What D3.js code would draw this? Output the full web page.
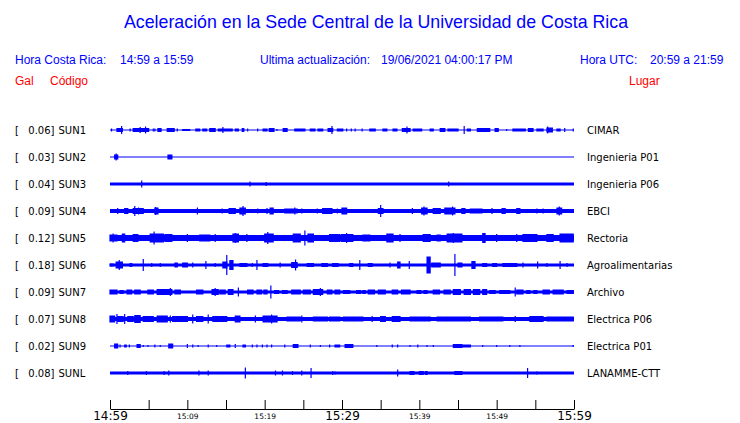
<!DOCTYPE html>
<html><head><meta charset="utf-8">
<script src="https://cdn.jsdelivr.net/npm/d3@7"></script>
<style>
html,body{margin:0;padding:0;background:#fff;}
svg{display:block;}
</style></head>
<body>
<svg id="chart" width="740" height="423"></svg>
<script>
// ---- data ----
const title = "Aceleración en la Sede Central de la Universidad de Costa Rica";
const stations = ["SUN1","SUN2","SUN3","SUN4","SUN5","SUN6","SUN7","SUN8","SUN9","SUNL"];
const places = ["CIMAR","Ingenieria P01","Ingenieria P06","EBCI","Rectoria","Agroalimentarias","Archivo","Electrica P06","Electrica P01","LANAMME-CTT"];
const peakGal = ["0.06","0.03","0.04","0.09","0.12","0.18","0.09","0.07","0.02","0.08"];
const startTime = "2021-06-19T14:59:00";
const tickLabels = ["14:59","15:04","15:09","15:14","15:19","15:24","15:29","15:34","15:39","15:44","15:49","15:54","15:59"];
const shownLabels = ["14:59","15:09","15:19","15:29","15:39","15:49","15:59"];
const bigLabels = ["14:59","15:29","15:59"];
// background noise level per trace (relative amplitude units)
const noiseLevel = [0.5, 0.5, 1.5, 2, 3, 1.5, 1.5, 2, 0.5, 1.5];
// bursts per trace: [start minute, end minute, amplitude]
const bursts = [
 // SUN1
 [[0.2,0.2,1.5],[0.9,1.6,2],[1.5,1.5,4],[2.6,2.6,1.5],[3.0,5.0,2],[3.9,3.9,3],[4.6,4.6,3.5],[5.6,5.6,1.5],[5.8,5.8,1.5],[6.2,6.6,2],[7.4,8.3,2],[8.7,8.7,1.5],[9.4,10.3,1],[11.1,11.6,1.5],[12.0,12.5,1.5],[12.9,13.6,2],[14.0,15.8,1.5],[14.6,14.6,3],[16.2,16.6,1.5],[17.1,17.3,2],[17.8,17.8,1.5],[19.1,19.1,1.5],[19.8,20.3,1.5],[20.6,21.2,2],[21.6,21.6,1],[22.4,22.9,2],[23.9,25.2,1.5],[25.9,26.5,1.5],[26.9,27.5,1.5],[28.2,28.8,2],[28.7,28.7,4],[29.4,30.1,1.5],[30.6,30.6,1.5],[31.2,31.2,1.5],[31.7,31.7,1.5],[32.6,32.6,1.5],[33.6,34.3,1.5],[35.3,35.8,1.5],[36.6,37.1,1.5],[37.8,38.8,2],[38.4,38.4,3.5],[39.2,40.3,1.5],[41.4,41.8,1.5],[42.7,43.3,2],[43.7,45.0,1.5],[45.8,45.8,4],[46.2,46.6,1.5],[47.5,49.1,2],[49.8,50.2,2],[51.3,51.3,1],[52.1,53.7,1.5],[54.1,54.7,2],[55.2,56.0,1.5],[56.5,57.2,2.5],[56.6,56.6,3.5],[57.8,58.2,1.5],[58.8,58.8,2],[59.9,59.9,1.5]],
 // SUN2
 [[0.6,1.0,2.5],[0.8,0.8,3.5],[7.5,8.0,2.5]],
 // SUN3
 [[4.1,4.1,3.5],[18.1,18.1,2.5],[20.2,20.2,2],[43.8,43.8,2.5]],
 // SUN4
 [[1.0,1.0,3],[1.9,2.3,3],[3.0,4.3,3],[3.2,3.2,5],[3.7,3.7,3.5],[5.8,6.2,3.5],[5.9,5.9,4],[11.3,11.3,3.5],[14.5,14.5,2.5],[15.4,16.2,3],[16.8,17.5,3.5],[17.2,17.2,5],[19.1,19.1,2.5],[20.3,20.3,3],[20.7,21.1,3.5],[22.6,24.2,2.5],[23.9,23.9,3.5],[24.8,24.8,2.5],[26.8,26.8,2.5],[27.5,28.7,3],[29.4,29.4,2.5],[30.0,30.6,3.5],[32.0,32.0,2],[34.7,35.3,3],[35.0,35.0,6],[39.1,39.1,3],[40.3,41.0,3.5],[40.6,40.6,4.5],[41.8,42.7,3],[43.3,44.6,3.5],[44.3,44.3,4.5],[45.5,45.9,3],[46.6,48.1,2.5],[49.4,49.4,3],[50.7,51.1,3],[52.6,53.0,3],[55.2,55.2,2.5],[56.0,56.0,2.5],[57.8,58.4,3.5],[58.1,58.1,4.5]],
 // SUN5
 [[0,0.9,3.5],[0.4,0.4,4.5],[1.6,1.9,4.5],[3.0,3.6,4],[5.2,6.9,4.5],[5.7,5.7,6.5],[7.1,8.0,4],[10.0,10.0,4],[11.6,12.9,3.5],[13.6,13.6,4],[15.9,16.6,4.5],[16.2,16.2,5],[17.7,17.7,4],[20.0,21.1,4.5],[20.4,20.4,6],[23.7,24.6,4.5],[25.2,25.2,7.5],[25.6,26.3,4.5],[28.4,29.7,4],[29.9,31.4,4],[30.6,30.6,5],[32.7,33.6,3.5],[35.8,36.6,4.5],[37.5,37.5,4],[40.5,41.4,4],[42.3,42.7,3.5],[43.6,45.5,4.5],[44.4,44.4,5],[48.2,48.5,5],[50.0,50.0,4],[52.6,52.6,4],[53.4,55.2,4],[56.5,57.3,4],[58.2,59.9,4.5]],
 // SUN6
 [[0,0.4,1.5],[0.8,1.6,3.5],[1.2,1.2,5],[2.6,2.8,2],[4.3,4.3,6],[5.4,5.4,2],[6.5,6.5,2],[8.4,8.7,2.5],[9.4,10.0,2.5],[10.7,10.7,2.5],[12.4,12.4,4],[13.6,13.6,2],[14.6,15.1,3.5],[15.1,15.1,10],[15.5,15.9,5],[16.8,17.7,2],[18.4,18.4,2],[19.0,19.0,5],[19.8,20.4,2],[22.0,22.0,2.5],[23.5,24.2,3],[24.0,24.0,5.5],[25.5,26.3,2],[27.4,28.1,2],[28.8,29.5,2],[31.0,31.4,2],[32.3,32.3,5],[33.4,33.9,2],[36.2,36.2,2.5],[37.2,37.5,3.5],[38.7,38.7,4],[41.0,41.4,8.5],[41.6,42.7,2.5],[44.6,44.6,11],[45.0,45.5,2.5],[46.8,47.2,4],[48.2,48.7,2],[49.5,50.0,2],[50.8,52.6,2],[53.4,53.4,2.5],[55.3,55.3,3.5],[56.5,56.5,2],[58.2,58.2,4],[59.1,59.1,2]],
 // SUN7
 [[0,0.9,2.5],[1.3,1.7,2],[2.2,2.8,2.5],[3.2,3.9,2.5],[4.9,5.6,2.5],[6.1,8.0,3],[7.8,7.8,4],[8.4,9.1,2.5],[11.2,12.0,2.5],[13.2,14.0,3],[13.6,13.6,4],[14.2,14.9,2.5],[15.3,15.9,3],[16.6,16.6,4.5],[17.8,18.5,2.5],[19.0,19.6,2.5],[19.9,20.3,2.5],[20.8,20.8,6.5],[21.3,21.8,2],[22.3,22.9,2],[23.5,24.6,2.5],[25.0,25.9,2.5],[26.3,27.5,3],[27.2,27.2,4],[28.1,28.7,2.5],[29.1,29.7,2.5],[30.2,31.0,2],[31.9,32.4,2],[32.7,33.0,2],[33.4,34.2,2.5],[34.7,35.6,2.5],[36.5,37.2,2.5],[37.7,38.8,2.5],[39.7,40.2,2],[40.6,41.0,2],[41.8,42.6,2.5],[43.2,44.0,2.5],[44.4,45.3,3],[45.8,46.6,3],[47.0,47.8,3],[48.2,48.7,3],[49.1,49.8,2],[50.4,51.7,2],[52.4,52.4,4.5],[52.6,53.4,2.5],[53.9,54.3,2],[54.8,55.2,2],[56.0,56.8,2.5],[57.3,58.6,2.5],[59.1,59.9,2]],
 // SUN8
 [[0,0.6,3.5],[0.9,0.9,5],[1.0,1.7,3],[1.9,1.9,5],[2.3,3.0,3],[3.2,3.9,4],[4.3,5.6,3],[6.1,7.4,3.5],[7.8,7.8,3.5],[8.1,10.0,3],[10.7,10.7,4.5],[11.2,12.0,3],[12.7,12.7,4.5],[13.3,15.1,3],[16.2,16.8,3.5],[18.8,18.8,3.5],[19.8,21.6,3.5],[20.9,20.9,4.5],[22.9,24.6,2.5],[24.8,24.8,3.5],[26.3,28.1,2.5],[28.4,29.7,2.5],[30.2,32.7,2.5],[33.9,33.9,3],[35.0,35.6,3],[36.5,37.5,3],[38.8,41.4,2.5],[42.3,46.6,2.5],[47.8,50.8,2.5],[52.4,52.4,3],[54.3,56.0,3],[56.5,59.9,2.5]],
 // SUN9
 [[0.6,1.0,2.5],[1.3,1.3,1.5],[1.9,2.1,1.5],[2.5,2.5,1.5],[3.5,3.9,2],[4.3,4.3,1],[4.9,4.9,1],[5.8,5.8,1.5],[6.5,6.5,1],[7.6,8.1,2.5],[10.0,10.0,2],[10.7,10.7,1.5],[11.4,11.4,1],[12.7,12.7,1.5],[13.8,13.8,1],[15.1,15.5,1.5],[16.2,16.2,2],[17.2,17.5,1.5],[18.4,18.4,1.5],[19.0,19.0,1.5],[19.7,19.7,1.5],[20.3,20.3,1.5],[20.9,20.9,1.5],[22.6,22.6,1.5],[23.7,24.3,2],[25.9,25.9,1.5],[27.2,27.2,1],[28.4,28.4,1.5],[29.1,29.7,1.5],[30.4,31.4,2],[34.5,34.5,1],[36.5,36.5,1.5],[37.2,37.2,1.5],[38.8,38.8,1],[39.8,39.8,1.5],[41.0,41.0,1],[41.8,41.8,1],[44.4,45.5,2],[45.6,46.6,1.5],[48.2,48.2,1],[50.0,50.0,1],[51.7,51.7,1],[53.0,53.0,1],[59.9,59.9,1]],
 // SUNL
 [[2.3,2.3,2],[4.7,4.7,2],[7.0,7.0,2],[7.6,7.6,2.5],[11.5,11.5,2.5],[12.7,12.7,2.5],[17.5,17.5,5.5],[21.4,21.4,2.5],[22.3,22.3,2.5],[23.6,23.6,2],[24.8,24.8,2.5],[26.0,26.0,5],[28.8,28.8,2],[29.1,29.1,1.5],[37.2,37.2,3.5],[38.8,39.3,2],[40.0,40.5,2],[40.8,41.0,2],[44.6,45.5,2],[54.0,54.0,5],[55.2,55.2,1.5]]
];

// ---- drawing ----
const svg = d3.select("#chart");
const blue = "#0000ff";
const t0 = new Date(startTime);
const parseHM = s => { const [h,m] = s.split(":").map(Number); const d = new Date(t0); d.setHours(h, m, 0, 0); return d; };
const x = d3.scaleTime().domain([parseHM(tickLabels[0]), parseHM(tickLabels[tickLabels.length-1])]).range([110, 574]);
const xm = m => x(new Date(t0.getTime() + m * 60000));
const y = d3.scalePoint().domain(stations).range([130, 373]);
const amp = d3.scaleLinear().domain([0, 12]).range([0, 12]);

svg.append("text").attr("x", 376).attr("y", 28).attr("text-anchor", "middle")
  .attr("font-family", "Liberation Sans, Arial, sans-serif").attr("font-size", 17.8)
  .attr("fill", blue).text(title);

const hdr = [
  ["Hora Costa Rica:", 15], ["14:59 a 15:59", 120],
  ["Ultima actualización:", 260], ["19/06/2021 04:00:17 PM", 381],
  ["Hora UTC:", 580], ["20:59 a 21:59", 650]
];
svg.selectAll("text.hdr").data(hdr).join("text").attr("class","hdr")
  .attr("x", d => d[1]).attr("y", 64)
  .attr("font-family", "Liberation Sans, Arial, sans-serif").attr("font-size", 12)
  .attr("fill", blue).text(d => d[0]);

const red = [["Gal", 15], ["Código", 50], ["Lugar", 629]];
svg.selectAll("text.red").data(red).join("text").attr("class","red")
  .attr("x", d => d[1]).attr("y", 85)
  .attr("font-family", "Liberation Sans, Arial, sans-serif").attr("font-size", 12)
  .attr("fill", "#ff0000").text(d => d[0]);

const rows = svg.selectAll("g.row").data(stations).join("g").attr("class","row")
  .attr("transform", d => `translate(0,${y(d)})`);

const lblFont = "DejaVu Sans, sans-serif";
rows.append("text").attr("x", 15).attr("y", 4).attr("font-family", lblFont).attr("font-size", 10).text("[");
rows.append("text").attr("x", 54.5).attr("y", 4).attr("text-anchor","end").attr("font-family", lblFont).attr("font-size", 10)
  .text((d,i) => peakGal[i] + "]");
rows.append("text").attr("x", 58.5).attr("y", 4).attr("font-family", lblFont).attr("font-size", 10).text(d => d);
rows.append("text").attr("x", 587).attr("y", 4).attr("font-family", lblFont).attr("font-size", 10)
  .text((d,i) => places[i]);

rows.append("rect")
  .attr("x", xm(0)).attr("width", xm(60) - xm(0))
  .attr("y", (d,i) => -Math.max(amp(noiseLevel[i]), 0.5))
  .attr("height", (d,i) => Math.max(2*amp(noiseLevel[i]), 1))
  .attr("fill", blue);

rows.each(function(d,i){
  d3.select(this).selectAll("rect.b").data(bursts[i]).join("rect").attr("class","b")
    .attr("x", b => xm(b[0]) - 0.6)
    .attr("width", b => Math.max(xm(b[1]) - xm(b[0]), 0) + 1.2)
    .attr("y", b => -amp(b[2]))
    .attr("height", b => 2*amp(b[2]))
    .attr("fill", blue);
});

// time axis
const axis = d3.axisBottom(x)
  .tickValues(tickLabels.map(parseHM))
  .tickSizeInner(-9).tickSizeOuter(0).tickPadding(0)
  .tickFormat(d => { const s = d3.timeFormat("%H:%M")(d); return shownLabels.includes(s) ? s : ""; });
const gAx = svg.append("g").attr("transform", "translate(0,409)").call(axis);
gAx.select(".domain").attr("stroke", "#000");
gAx.selectAll(".tick line").attr("stroke", "#000");
gAx.selectAll(".tick text")
  .attr("font-family", lblFont).attr("fill", "#000")
  .attr("dy", null)
  .attr("y", function(){ return bigLabels.includes(this.textContent) ? 11 : 9.5; })
  .attr("font-size", function(){ return bigLabels.includes(this.textContent) ? 12 : 7.5; });
</script>
</body></html>
